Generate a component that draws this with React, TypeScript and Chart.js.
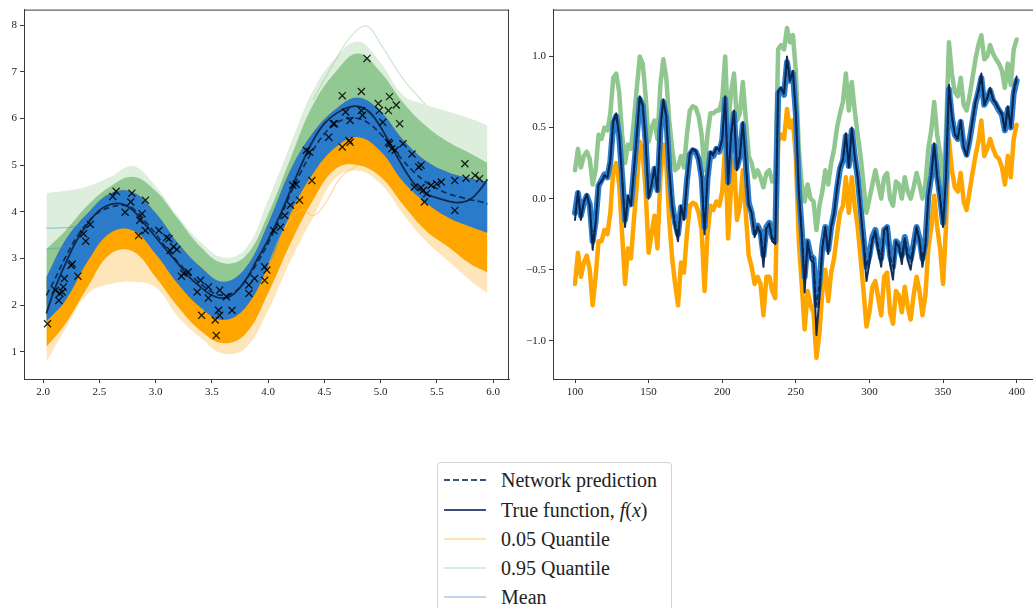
import React, { useEffect, useRef } from 'react';
import { Chart, registerables } from 'chart.js';

Chart.register(...registerables);

// ---------------- Left panel data ----------------
const leftXTicks = [2.0, 2.5, 3.0, 3.5, 4.0, 4.5, 5.0, 5.5, 6.0];
const leftYTicks = [1, 2, 3, 4, 5, 6, 7, 8];

const leftBandX = [2.03, 2.2, 2.4, 2.6, 2.8, 3.0, 3.2, 3.4, 3.6, 3.8, 4.0, 4.2, 4.4, 4.6, 4.8, 5.0, 5.2, 5.4, 5.6, 5.8, 5.95];
const greenOuterTop = [4.4, 4.45, 4.55, 4.75, 4.98, 4.55, 3.9, 3.35, 3.02, 3.2, 4.25, 5.45, 6.6, 7.3, 7.65, 7.2, 6.5, 6.3, 6.15, 6.0, 5.85];
const greenCoreTop = [3.2, 3.6, 4.15, 4.55, 4.75, 4.45, 3.85, 3.25, 2.9, 3.05, 3.95, 5.15, 6.3, 7.0, 7.4, 7.0, 6.35, 5.85, 5.5, 5.25, 5.05];
const meanTop = [2.6, 3.4, 3.98, 4.4, 4.42, 3.98, 3.33, 2.82, 2.5, 2.8, 3.75, 4.9, 5.7, 6.2, 6.45, 6.15, 5.55, 5.1, 4.85, 4.72, 4.65];
const meanBottom = [1.65, 2.1, 2.95, 3.55, 3.6, 3.1, 2.45, 1.95, 1.68, 1.95, 2.82, 3.96, 4.82, 5.38, 5.6, 5.3, 4.65, 4.2, 3.88, 3.68, 3.55];
const orangeCoreBottom = [1.1, 1.6, 2.4, 3.1, 3.15, 2.6, 1.96, 1.45, 1.18, 1.38, 2.25, 3.32, 4.25, 4.92, 5.0, 4.75, 4.15, 3.6, 3.25, 2.88, 2.7];
const orangeOuterBottom = [0.78, 1.5, 2.25, 2.45, 2.5, 2.38, 1.75, 1.3, 0.96, 1.08, 1.88, 2.95, 3.88, 4.72, 4.88, 4.6, 3.95, 3.38, 2.95, 2.52, 2.25];

// a few individual faint sample curves that stand out from the bands
const greenSpikeX = [4.4, 4.6, 4.75, 4.88, 5.0, 5.2, 5.4];
const greenSpikeY = [6.4, 7.25, 7.8, 7.98, 7.6, 6.85, 6.3];
const blueStrayX = [2.03, 2.2, 2.35, 2.5];
const blueStrayY1 = [3.65, 3.66, 3.72, 3.95];
const blueStrayY2 = [3.2, 3.25, 3.4, 3.75];
const orangeStrayX = [4.0, 4.15, 4.3, 4.4, 4.5, 4.65, 4.8];
const orangeStrayY = [2.85, 3.65, 4.05, 3.92, 4.15, 4.75, 5.0];

const leftLineX = [2.03, 2.1, 2.2, 2.3, 2.4, 2.5, 2.6, 2.7, 2.8, 2.9, 3.0, 3.1, 3.2, 3.3, 3.4, 3.5, 3.6, 3.7, 3.8, 3.9, 4.0, 4.1, 4.2, 4.3, 4.4, 4.5, 4.6, 4.7, 4.8, 4.9, 5.0, 5.1, 5.2, 5.3, 5.4, 5.5, 5.6, 5.7, 5.8, 5.9, 5.95];
const trueLeft = [1.82, 2.32, 2.89, 3.39, 3.75, 4.03, 4.16, 4.17, 4.03, 3.75, 3.46, 3.17, 2.89, 2.6, 2.39, 2.21, 2.15, 2.25, 2.53, 2.96, 3.39, 3.89, 4.46, 5.03, 5.53, 5.89, 6.1, 6.23, 6.26, 6.14, 5.82, 5.39, 4.96, 4.6, 4.39, 4.3, 4.23, 4.2, 4.27, 4.52, 4.7];
const predLeft = [2.21, 2.53, 3.03, 3.46, 3.78, 4.0, 4.1, 4.14, 4.07, 3.82, 3.53, 3.21, 2.92, 2.67, 2.46, 2.28, 2.21, 2.28, 2.53, 2.89, 3.32, 3.82, 4.39, 4.89, 5.32, 5.67, 5.89, 6.0, 6.0, 5.89, 5.67, 5.39, 5.1, 4.85, 4.64, 4.5, 4.39, 4.32, 4.26, 4.21, 4.17];

const obsX = [2.04, 2.11, 2.14, 2.15, 2.17, 2.18, 2.19, 2.25, 2.26, 2.31,
  2.36, 2.38, 2.42, 2.62, 2.65, 2.73, 2.78, 2.79, 2.85, 2.86,
  2.88, 2.91, 2.91, 3.03, 3.1, 3.12, 3.13, 3.16, 3.19, 3.23,
  3.25, 3.29, 3.37, 3.4, 3.41, 3.47, 3.47, 3.53, 3.54, 3.56,
  3.57, 3.57, 3.63, 3.68, 3.83, 3.83, 3.88, 3.97, 3.97, 3.99,
  4.05, 4.11, 4.15, 4.2, 4.22, 4.25, 4.28, 4.34, 4.37, 4.39,
  4.54, 4.58, 4.59, 4.66, 4.66, 4.69, 4.72, 4.73, 4.73, 4.83,
  4.83, 4.84, 4.88, 4.98, 4.99, 5.02, 5.07, 5.08, 5.07, 5.08,
  5.1, 5.13, 5.14, 5.17, 5.2, 5.28, 5.34, 5.36, 5.3, 5.36,
  5.38, 5.39, 5.41, 5.45, 5.5, 5.54, 5.66, 5.66, 5.75, 5.76,
  5.84, 5.88];
const obsY = [1.6, 2.32, 2.1, 2.25, 2.28, 2.39, 2.57, 2.85, 2.88, 2.62,
  3.53, 3.37, 3.73, 4.33, 4.44, 3.99, 4.21, 4.4, 3.49, 3.82,
  3.96, 4.25, 3.6, 3.6, 3.45, 3.42, 3.17, 3.25, 3.19, 2.62,
  2.68, 2.71, 2.28, 2.53, 1.78, 2.39, 2.15, 1.68, 1.35, 1.89,
  1.78, 2.32, 2.18, 1.89, 2.43, 2.25, 2.57, 2.82, 2.53, 2.75,
  3.6, 3.67, 3.92, 4.14, 4.57, 4.59, 4.25, 5.32, 5.28, 4.67,
  5.6, 5.89, 5.89, 6.49, 5.39, 6.14, 5.53, 5.96, 5.49, 6.58,
  6.17, 6.07, 7.29, 6.32, 6.17, 5.92, 6.17, 6.47, 5.49, 5.46,
  5.35, 5.32, 6.29, 5.89, 5.46, 5.24, 4.96, 5.0, 4.53, 4.52,
  4.46, 4.21, 4.39, 4.57, 4.6, 4.64, 4.67, 4.03, 5.03, 4.72,
  4.78, 4.71];

// ---------------- Right panel data ----------------
const rightXTicks = [100, 150, 200, 250, 300, 350, 400];
const rightYTicks = [-1.0, -0.5, 0.0, 0.5, 1.0];
const rightXStart = 100;
const rightXStep = 2;

const trueRight = [
  -0.15, 0.05, -0.15, -0.02, 0.03, -0.05, -0.36, -0.18, 0.1, 0.12,
  0.16, 0.15, 0.27, 0.55, 0.6, 0.45, 0.15, -0.2, 0.02, -0.05,
  0.2, 0.45, 0.72, 0.66, 0.4, 0.0, 0.1, 0.22, 0.05, 0.5,
  0.7, 0.58, 0.2, -0.06, -0.2, -0.3, -0.05, -0.15, 0.12, 0.32,
  0.35, 0.34, 0.28, 0.15, -0.25, 0.15, 0.33, 0.31, 0.36, 0.34,
  0.42, 0.72, 0.1, 0.45, 0.62, 0.2, 0.3, 0.54, 0.25, -0.05,
  -0.1, -0.27, -0.2, -0.25, -0.48, -0.21, -0.18, -0.3, -0.32, 0.76,
  0.78, 0.74, 1.0, 0.83, 0.9, 0.6, 0.05, -0.25, -0.66, -0.3,
  -0.43, -0.45, -0.96, -0.7, -0.35, -0.2, -0.39, -0.2, -0.1, 0.08,
  0.22, 0.28, 0.46, 0.22, 0.5, 0.3, 0.15, -0.08, -0.32, -0.58,
  -0.45, -0.29, -0.24, -0.37, -0.48, -0.22, -0.2, -0.46, -0.57, -0.3,
  -0.34, -0.46, -0.28, -0.43, -0.5, -0.35, -0.2, -0.3, -0.48, -0.34,
  0.02, 0.16, 0.39, 0.15, 0.0, -0.2, 0.15, 0.8, 0.58, 0.45,
  0.42, 0.55, 0.36, 0.3, 0.41, 0.55, 0.68, 0.76, 0.88, 0.66,
  0.71, 0.78, 0.7, 0.67, 0.63, 0.6, 0.48, 0.65, 0.5, 0.76,
  0.86];
const predRight = [
  -0.1, 0.04, -0.12, -0.03, 0.02, -0.04, -0.3, -0.16, 0.09, 0.13,
  0.17, 0.15, 0.26, 0.53, 0.58, 0.44, 0.16, -0.15, 0.01, -0.04,
  0.2, 0.44, 0.7, 0.65, 0.4, 0.02, 0.1, 0.21, 0.06, 0.48,
  0.68, 0.57, 0.22, -0.04, -0.17, -0.25, -0.06, -0.13, 0.12, 0.31,
  0.34, 0.33, 0.28, 0.15, -0.2, 0.14, 0.32, 0.3, 0.35, 0.33,
  0.41, 0.7, 0.12, 0.44, 0.6, 0.22, 0.3, 0.52, 0.25, -0.03,
  -0.1, -0.24, -0.19, -0.23, -0.4, -0.2, -0.17, -0.27, -0.3, 0.74,
  0.77, 0.73, 0.96, 0.83, 0.88, 0.6, 0.07, -0.22, -0.55, -0.3,
  -0.4, -0.42, -0.75, -0.6, -0.33, -0.2, -0.36, -0.2, -0.1, 0.07,
  0.21, 0.27, 0.44, 0.23, 0.48, 0.3, 0.15, -0.07, -0.28, -0.48,
  -0.4, -0.27, -0.22, -0.33, -0.42, -0.22, -0.2, -0.4, -0.48, -0.3,
  -0.32, -0.4, -0.27, -0.38, -0.43, -0.32, -0.2, -0.28, -0.42, -0.31,
  0.02, 0.16, 0.37, 0.16, 0.01, -0.17, 0.15, 0.77, 0.57, 0.45,
  0.42, 0.54, 0.37, 0.31, 0.41, 0.54, 0.67, 0.75, 0.85, 0.66,
  0.7, 0.76, 0.69, 0.66, 0.62, 0.59, 0.48, 0.63, 0.5, 0.74,
  0.83];
const upperRight = [
  0.2, 0.35, 0.22, 0.3, 0.33, 0.28, 0.1, 0.2, 0.45, 0.42,
  0.5, 0.48, 0.6, 0.85, 0.88, 0.75, 0.45, 0.25, 0.38, 0.35,
  0.55, 0.78, 1.0, 0.95, 0.72, 0.4, 0.5, 0.55, 0.42, 0.8,
  0.98, 0.85, 0.55, 0.35, 0.2, 0.22, 0.3, 0.22, 0.45, 0.62,
  0.65, 0.64, 0.58, 0.45, 0.2, 0.45, 0.6, 0.6, 0.62, 0.62,
  0.7, 1.0, 0.5, 0.75, 0.88, 0.55, 0.6, 0.82, 0.56, 0.3,
  0.25, 0.15, 0.2, 0.15, 0.08, 0.18, 0.2, 0.12, 0.12, 1.05,
  1.08, 1.05, 1.2, 1.1, 1.15, 0.9, 0.35, 0.1, -0.02, 0.1,
  0.0, -0.02, -0.22, -0.05, 0.05, 0.2, 0.1, 0.25, 0.35, 0.5,
  0.6, 0.68, 0.88, 0.62, 0.82, 0.62, 0.45, 0.3, 0.1, -0.1,
  0.0, 0.1, 0.2, 0.1, 0.0, 0.15, 0.18, 0.0, -0.05, 0.12,
  0.1, 0.0, 0.15, 0.05, 0.0, 0.08, 0.18, 0.1, 0.0, 0.1,
  0.35, 0.48, 0.68, 0.45, 0.32, 0.05, 0.45, 1.1, 0.88, 0.75,
  0.72, 0.85, 0.66, 0.62, 0.72, 0.85, 0.98, 1.08, 1.15, 0.98,
  1.0, 1.08, 1.02, 0.98, 0.95, 0.9, 0.78, 0.95, 0.8, 1.05,
  1.12];
const lowerRight = [
  -0.6, -0.38, -0.55, -0.45, -0.4, -0.5, -0.75, -0.55, -0.3, -0.3,
  -0.22, -0.25, -0.1, 0.2, 0.25, 0.1, -0.25, -0.6, -0.35, -0.42,
  -0.15, 0.1, 0.4, 0.32, 0.05, -0.38, -0.25, -0.12, -0.35, 0.15,
  0.38, 0.25, -0.15, -0.42, -0.6, -0.75, -0.45, -0.52, -0.25, -0.05,
  -0.03, -0.04, -0.1, -0.22, -0.65, -0.25, -0.05, -0.08, -0.02, -0.05,
  0.05, 0.38, -0.28, 0.08, 0.28, -0.15, -0.05, 0.2, -0.1, -0.4,
  -0.48, -0.6, -0.55, -0.6, -0.82, -0.55, -0.55, -0.65, -0.7, 0.4,
  0.45, 0.42, 0.63, 0.5, 0.55, 0.3, -0.3, -0.6, -0.92, -0.65,
  -0.75, -0.8, -1.12, -0.95, -0.65, -0.5, -0.72, -0.52, -0.42, -0.25,
  -0.1, -0.05, 0.15, -0.1, 0.15, -0.05, -0.2, -0.42, -0.65, -0.9,
  -0.8, -0.62, -0.58, -0.7, -0.82, -0.55, -0.52, -0.8, -0.88, -0.65,
  -0.68, -0.8, -0.62, -0.76, -0.85, -0.68, -0.55, -0.65, -0.82, -0.68,
  -0.35, -0.2, 0.02, -0.2, -0.35, -0.6, -0.2, 0.42, 0.2, 0.08,
  0.05, 0.18, -0.02, -0.08, 0.05, 0.18, 0.3, 0.4, 0.55, 0.3,
  0.35, 0.42, 0.35, 0.3, 0.28, 0.22, 0.1, 0.3, 0.15, 0.42,
  0.52];

const rightX = trueRight.map((_, i) => rightXStart + i * rightXStep);

// ---------------- Legend ----------------
const legendItems = [
  { label: 'Network prediction', color: 'rgba(20,50,95,0.85)', dash: true, width: 2 },
  { label: 'True function, ', math: true, color: 'rgba(20,50,95,0.85)', dash: false, width: 2 },
  { label: '0.05 Quantile', color: 'rgba(255,165,0,0.3)', dash: false, width: 2 },
  { label: '0.95 Quantile', color: 'rgba(130,190,130,0.3)', dash: false, width: 2 },
  { label: 'Mean', color: 'rgba(40,120,200,0.3)', dash: false, width: 2 },
];

const FONT = '"Liberation Serif", "DejaVu Serif", serif';

function pts(xs: number[], ys: number[]) {
  return xs.map((x, i) => ({ x, y: ys[i] }));
}

function framePlugin(sides: string[]) {
  return {
    id: 'frame',
    afterDraw(chart: any) {
      const { ctx, chartArea } = chart;
      const { left, right, top, bottom } = chartArea;
      ctx.save();
      ctx.strokeStyle = '#3a3a3a';
      ctx.lineWidth = 1;
      ctx.beginPath();
      if (sides.includes('top')) { ctx.moveTo(left, top + 0.5); ctx.lineTo(right, top + 0.5); }
      if (sides.includes('right')) { ctx.moveTo(right - 0.5, top); ctx.lineTo(right - 0.5, bottom); }
      ctx.stroke();
      ctx.restore();
    },
  };
}

function axisStyle(ticksArr: number[], fmt: (v: number) => string, min: number, max: number, fit: (s: any) => void) {
  return {
    type: 'linear' as const,
    min,
    max,
    afterBuildTicks: (s: any) => { s.ticks = ticksArr.map((v) => ({ value: v })); },
    afterFit: fit,
    grid: { display: true, drawOnChartArea: false, drawTicks: true, tickLength: 4, color: '#3a3a3a', tickWidth: 1 },
    border: { display: true, color: '#3a3a3a', width: 1 },
    ticks: { color: '#222', font: { family: FONT, size: 11 }, padding: 3, autoSkip: false, maxRotation: 0, callback: (v: any) => fmt(Number(v)) },
  };
}

const fmtSigned = (v: number) => (v < 0 ? '\u2212' + Math.abs(v).toFixed(1) : v.toFixed(1));

function band(data: any, color: string, target: number | false, order: number) {
  return {
    data,
    borderColor: 'transparent',
    borderWidth: 0,
    pointRadius: 0,
    backgroundColor: color,
    fill: target === false ? false : { target },
    tension: 0.4,
    order,
  };
}

function faint(data: any, color: string, order: number) {
  return { data, borderColor: color, borderWidth: 1.3, pointRadius: 0, fill: false, tension: 0.4, order };
}

function leftConfig(): any {
  return {
    type: 'line',
    data: {
      datasets: [
        band(pts(leftBandX, greenOuterTop), 'rgba(143,200,143,0.3)', 1, 12),
        band(pts(leftBandX, greenCoreTop), 'rgba(140,198,140,0.95)', 4, 9),
        band(pts(leftBandX, orangeOuterBottom), 'rgba(255,175,40,0.32)', 3, 8),
        band(pts(leftBandX, orangeCoreBottom), '#ffa500', 5, 7),
        band(pts(leftBandX, meanBottom), 'transparent', false, 6),
        band(pts(leftBandX, meanTop), '#2a7bc9', 4, 5),
        {
          data: pts(leftLineX, trueLeft), borderColor: 'rgba(12,32,65,0.9)', borderWidth: 1.8,
          pointRadius: 0, fill: false, tension: 0.4, order: 3,
        },
        {
          data: pts(leftLineX, predLeft), borderColor: 'rgba(12,32,65,0.9)', borderWidth: 1.6, borderDash: [6, 3.5],
          pointRadius: 0, fill: false, tension: 0.4, order: 2,
        },
        {
          data: pts(obsX, obsY), showLine: false, pointStyle: 'crossRot', pointRadius: 5,
          borderColor: 'rgba(0,0,0,0.85)', borderWidth: 1.3, backgroundColor: 'transparent', order: 1,
        },
        faint(pts(greenSpikeX, greenSpikeY), 'rgba(120,190,120,0.35)', 11),
        faint(pts(blueStrayX, blueStrayY1), 'rgba(70,140,210,0.45)', 4),
        faint(pts(blueStrayX, blueStrayY2), 'rgba(70,140,210,0.35)', 4),
        faint(pts(orangeStrayX, orangeStrayY), 'rgba(255,190,80,0.55)', 4),
      ],
    },
    options: {
      responsive: false,
      animation: false,
      events: [],
      layout: { padding: { top: 9, right: 11, left: 0, bottom: 0 } },
      plugins: { legend: { display: false }, tooltip: { enabled: false }, filler: { propagate: false } },
      scales: {
        x: axisStyle(leftXTicks, (v) => v.toFixed(1), 1.831, 6.142, (s) => { s.height = 21; }),
        y: axisStyle(leftYTicks, (v) => String(Math.round(v)), 0.415, 8.336, (s) => { s.width = 24; }),
      },
    },
    plugins: [framePlugin(['top', 'right'])],
  };
}

function line(data: any, color: string, width: number, order: number, dash?: number[]) {
  return {
    data, borderColor: color, borderWidth: width, pointRadius: 0, fill: false, tension: 0,
    borderDash: dash || [], order, borderJoinStyle: 'round', borderCapStyle: 'round',
  };
}

function rightConfig(): any {
  return {
    type: 'line',
    data: {
      datasets: [
        line(pts(rightX, trueRight), 'rgba(10,35,75,0.95)', 2, 1),
        line(pts(rightX, predRight), 'rgba(10,35,75,0.9)', 1.4, 2, [5, 3]),
        line(pts(rightX, predRight), '#2b7ccb', 6, 3),
        line(pts(rightX, lowerRight), '#ffa500', 4.5, 4),
        line(pts(rightX, upperRight), '#8fc78f', 4.5, 5),
      ],
    },
    options: {
      responsive: false,
      animation: false,
      events: [],
      layout: { padding: { top: 9, right: 0, left: 0, bottom: 0 } },
      plugins: { legend: { display: false }, tooltip: { enabled: false } },
      scales: {
        x: axisStyle(rightXTicks, (v) => String(Math.round(v)), 85.05, 411.1, (s) => { s.height = 21; }),
        y: axisStyle(rightYTicks, fmtSigned, -1.269, 1.33, (s) => { s.width = 33; }),
      },
    },
    plugins: [framePlugin(['top'])],
  };
}

function Swatch({ color, dash, width }: { color: string; dash: boolean; width: number }) {
  return (
    <svg width={42} height={6} style={{ display: 'block' }}>
      <line x1={0} y1={3} x2={42} y2={3} stroke={color} strokeWidth={width} strokeDasharray={dash ? '6 3' : undefined} />
    </svg>
  );
}

export default function App() {
  const leftRef = useRef<HTMLCanvasElement | null>(null);
  const rightRef = useRef<HTMLCanvasElement | null>(null);

  useEffect(() => {
    const c1 = new Chart(leftRef.current as HTMLCanvasElement, leftConfig());
    const c2 = new Chart(rightRef.current as HTMLCanvasElement, rightConfig());
    return () => { c1.destroy(); c2.destroy(); };
  }, []);

  const rowCenters = [479, 509, 538, 567, 596];

  return (
    <div style={{ position: 'absolute', left: 0, top: 0, width: 1033, height: 608, overflow: 'hidden', background: '#fff' }}>
      <canvas ref={leftRef} width={520} height={400} style={{ position: 'absolute', left: 0, top: 0, width: 520, height: 400 }} />
      <canvas ref={rightRef} width={513} height={400} style={{ position: 'absolute', left: 520, top: 0, width: 513, height: 400 }} />
      <div style={{ position: 'absolute', left: 437, top: 462, width: 233, height: 170, border: '1px solid #d3d3d3', borderRadius: 4, background: '#fff' }}>
        {legendItems.map((it, i) => (
          <div key={i} style={{ position: 'absolute', left: 0, top: rowCenters[i] - 462 - 15, height: 30, width: 233, display: 'flex', alignItems: 'center' }}>
            <div style={{ position: 'absolute', left: 6 }}><Swatch color={it.color} dash={it.dash} width={it.width} /></div>
            <div style={{ position: 'absolute', left: 63, fontFamily: FONT, fontSize: 20, color: '#222', whiteSpace: 'nowrap', lineHeight: '30px' }}>
              {it.label}
              {it.math ? (<span><i>f</i>(<i>x</i>)</span>) : null}
            </div>
          </div>
        ))}
      </div>
    </div>
  );
}
